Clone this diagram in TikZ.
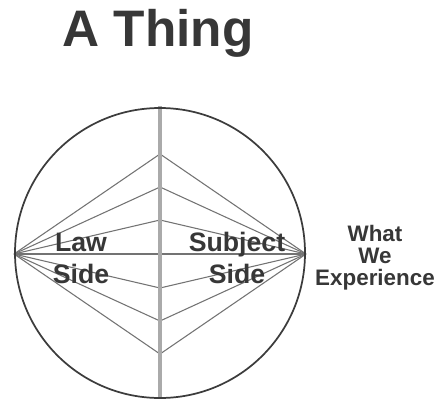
\documentclass[tikz,border=0pt]{standalone}
\usepackage{fontspec}
\setmainfont{Liberation Sans}
\tikzset{every picture/.style={line width=0.75pt}}
\begin{document}
\begin{tikzpicture}[
            x=0.75pt,
            y=0.75pt,
            yscale=-1,
            xscale=1,
            every node/.style={text={rgb, 255:red, 55; green, 55; blue, 55}},
            fanline/.style={draw={rgb, 255:red, 115; green, 115; blue, 115},line width=0.8pt},
            sideline/.style={draw={rgb, 255:red, 170; green, 170; blue, 170},line width=3.2pt},
            sidelabel/.style={align=center,font=\fontsize{20}{24}\selectfont\bfseries},
            line width=0.75pt
        ]
            \useasboundingbox (0,0) rectangle (441,399);
            % the two vertices and the dividing line
            \coordinate (lawpt) at (14,254);
            \coordinate (expt) at (306,254);
            \foreach \dy in {-100,-67,-34,34,67,100} {
                \draw[fanline] (lawpt) -- (160,254+\dy) -- (expt);
            }
            \draw[fanline] (lawpt) -- (expt);
            \draw[sideline] (160,106) -- (160,399);
            \draw[draw={rgb, 255:red, 60; green, 60; blue, 60},line width=1.3pt] (160,253) circle [radius=108.75pt];
            % labels
            \node[font=\fontsize{38.5}{40}\selectfont\bfseries,anchor=base] (title) at (158,47) {A Thing};
            \node[sidelabel] (law) at (81,258) {Law\\Side};
            \node[sidelabel] (subject) at (237,258) {Subject\\Side};
            \node[align=center,font=\fontsize{16.8}{16.5}\selectfont\bfseries] (what) at (375,258) {What\\We\\Experience};
        \end{tikzpicture}
\end{document}
